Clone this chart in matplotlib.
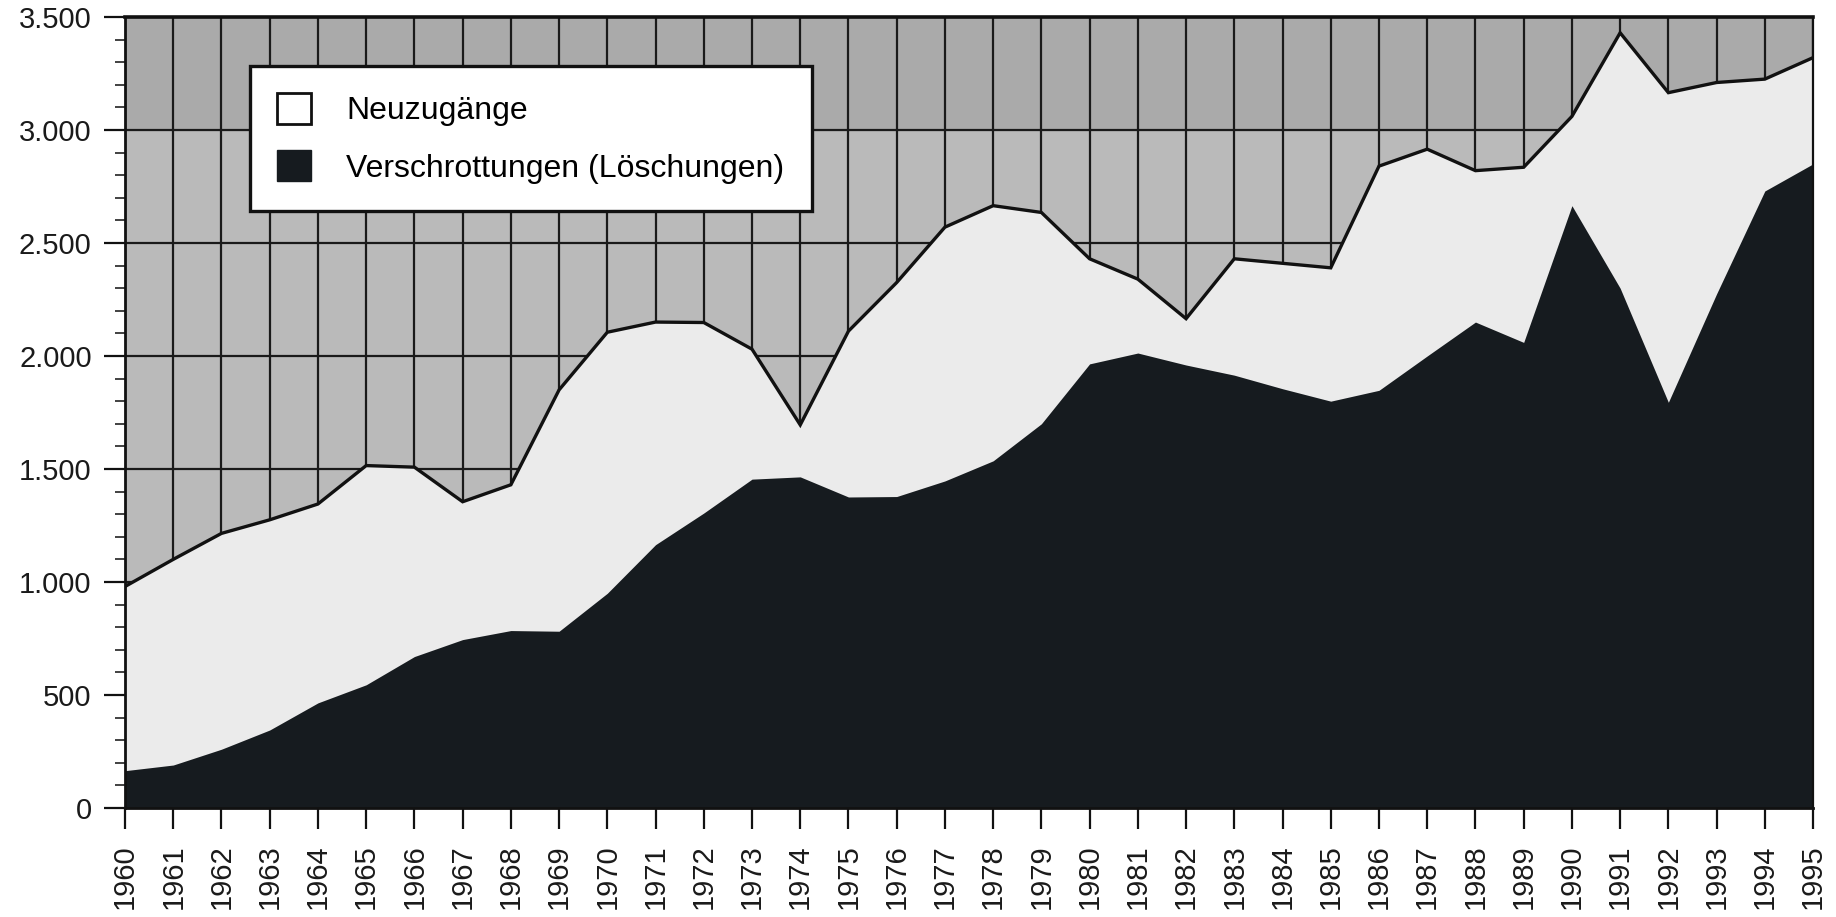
import matplotlib
matplotlib.use("Agg")
import matplotlib.pyplot as plt
from matplotlib.patches import Patch
from matplotlib.ticker import FixedLocator, MultipleLocator, FuncFormatter

plt.rcParams['font.family'] = ['Liberation Sans', 'DejaVu Sans']

years = list(range(1960, 1996))
neuzugaenge = [980, 1100, 1215, 1275, 1345, 1515, 1508, 1355, 1430, 1850,
               2105, 2150, 2148, 2030, 1695, 2110, 2325, 2570, 2665, 2635,
               2430, 2340, 2165, 2430, 2410, 2390, 2840, 2915, 2820, 2835,
               3060, 3430, 3165, 3210, 3225, 3320]
verschrottungen = [165, 190, 260, 345, 465, 545, 670, 745, 785, 782,
                   950, 1165, 1305, 1455, 1465, 1376, 1378, 1447, 1536, 1700,
                   1965, 2013, 1960, 1915, 1855, 1800, 1848, 2000, 2150, 2060,
                   2665, 2300, 1795, 2275, 2730, 2850]
y_ticks = [0, 500, 1000, 1500, 2000, 2500, 3000, 3500]
labels = ["Neuzugänge", "Verschrottungen (Löschungen)"]

fig = plt.figure(figsize=(18.36, 9.17), dpi=100)
ax = fig.add_axes([0.0681, 0.1189, 0.9194, 0.8626])

ax.set_xlim(years[0], years[-1])
ax.set_ylim(0, 3500)

# background bands (scanned grey)
ax.set_facecolor('#bababa')
ax.axhspan(3000, 3500, color='#aaaaaa', zorder=0)

ax.set_axisbelow(True)
ax.xaxis.set_major_locator(FixedLocator(years))
ax.yaxis.set_major_locator(FixedLocator(y_ticks))
ax.yaxis.set_minor_locator(MultipleLocator(100))
ax.grid(True, which='major', color='#1a1a1a', linewidth=1.6, zorder=0.5)

ax.fill_between(years, 0, neuzugaenge, color='#ebebeb', linewidth=0, zorder=1)
ax.fill_between(years, 0, verschrottungen, color='#161b1f', linewidth=0, zorder=2)
ax.plot(years, neuzugaenge, color='#111111', linewidth=2.4, zorder=3,
        solid_joinstyle='miter')

ax.set_xticklabels([str(y) for y in years], rotation=90)
ax.yaxis.set_major_formatter(FuncFormatter(lambda v, p: f"{int(v):,}".replace(",", ".")))

ax.tick_params(axis='both', which='major', length=15, width=1.6, color='#111111',
               labelsize=21, labelcolor='#1a1a1a')
ax.tick_params(axis='y', which='major', pad=9)
ax.tick_params(axis='x', which='major', pad=11)
ax.tick_params(axis='y', which='minor', length=7, width=1.3, color='#333333')

for side in ['left', 'bottom']:
    ax.spines[side].set_linewidth(2)
    ax.spines[side].set_color('#111111')
ax.spines['top'].set_linewidth(2.6)
ax.spines['top'].set_color('#111111')
ax.spines['right'].set_linewidth(1.6)
ax.spines['right'].set_color('#111111')

handles = [Patch(facecolor='white', edgecolor='#111111', linewidth=2.0),
           Patch(facecolor='#161b1f', edgecolor='#161b1f')]
leg = ax.legend(handles, labels, loc='upper left', bbox_to_anchor=(0.074, 0.938),
                borderaxespad=0, fontsize=23, frameon=True, fancybox=False,
                framealpha=1, edgecolor='#111111', facecolor='white',
                handlelength=1.07, handleheight=1.1, handletextpad=1.1,
                borderpad=0.85, labelspacing=0.75)
leg.get_frame().set_linewidth(2.4)
leg.set_zorder(10)

fig.savefig('out.png', dpi=100)
